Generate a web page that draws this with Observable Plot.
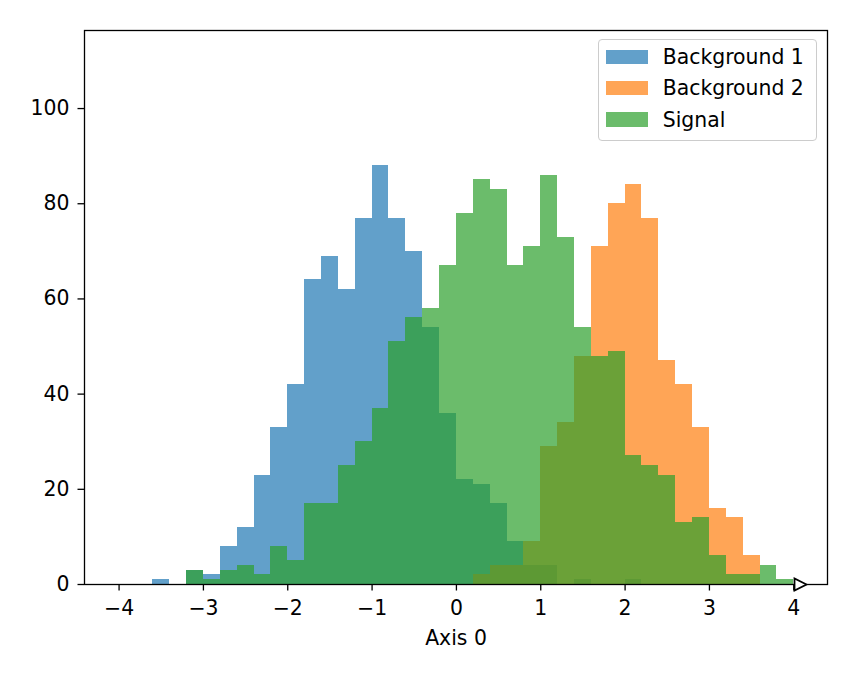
<!DOCTYPE html>
<html><head><meta charset="utf-8">
<script src="https://cdn.jsdelivr.net/npm/d3@7"></script>
<script src="https://cdn.jsdelivr.net/npm/@observablehq/plot@0.6"></script>
<style>
body{margin:0;background:#fff;}
#wrap{position:relative;width:857px;height:679px;font-family:"DejaVu Sans",sans-serif;}
.legend{position:absolute;left:597.5px;top:39px;width:219.5px;height:102px;box-sizing:border-box;border:1.3px solid #cccccc;border-radius:4px;background:rgba(255,255,255,0.8);}
.item{position:absolute;left:7.2px;height:20px;display:flex;align-items:center;font-size:20.4px;color:#000;white-space:nowrap;}
.sw{width:42px;height:14.5px;margin-right:15px;}
</style></head><body><div id="wrap"></div>
<script>
const binEdges = [-4.0,-3.8,-3.6,-3.4,-3.2,-3.0,-2.8,-2.6,-2.4,-2.2,-2.0,-1.8,-1.6,-1.4,-1.2,-1.0,-0.8,-0.6,-0.4,-0.2,0.0,0.2,0.4,0.6,0.8,1.0,1.2,1.4,1.6,1.8,2.0,2.2,2.4,2.6,2.8,3.0,3.2,3.4,3.6,3.8,4.0];
const background1 = [0,0,1,0,3,2,8,12,23,33, 42,64,69,62,77,88,77,70,54,36, 22,21,17,9,4,4,0,1,0,0, 1,0,0,0,0,0,0,0,0,0];
const background2 = [0,0,0,0,0,0,0,0,0,0, 0,0,0,0,0,0,0,0,0,0, 0,2,4,4,9,29,34,48,71,80, 84,77,47,42,33,16,14,6,0,0];
const signal = [0,0,0,0,3,1,3,4,2,8, 5,17,17,25,30,37,51,56,58,67, 78,85,83,67,71,86,73,54,48,49, 27,25,23,13,14,6,2,2,4,1];
const seriesNames = ["Background 1","Background 2","Signal"];
const seriesColors = ["#1f77b4","#ff7f0e","#2ca02c"];
const xTicks = [-4,-3,-2,-1,0,1,2,3,4];
const yTicks = [0,20,40,60,80,100];
const xLabel = "Axis 0";
const overflowAt = [4.08];

const seriesValues = [background1, background2, signal];
const tables = seriesValues.map(vals => vals.map((v, i) => ({x1: binEdges[i], x2: binEdges[i + 1], y: v})));

const triangleRight = {
  draw(context, size) {
    const r = Math.sqrt(size / Math.PI);
    context.moveTo(r, 0);
    context.lineTo(-r, -r);
    context.lineTo(-r, r);
    context.closePath();
  }
};

const chart = Plot.plot({
  width: 857,
  height: 679,
  marginLeft: 84,
  marginRight: 30,
  marginTop: 30,
  marginBottom: 95,
  style: {fontFamily: "DejaVu Sans", fontSize: "20.4px", background: "white", overflow: "visible"},
  x: {domain: [-4.41, 4.40]},
  y: {domain: [0, 116.4]},
  marks: [
    ...tables.map((t, k) => Plot.rectY(t, {x1: "x1", x2: "x2", y: "y", fill: seriesColors[k], fillOpacity: 0.7, shapeRendering: "crispEdges"})),
    Plot.frame({stroke: "black", strokeWidth: 1.3}),
    Plot.axisY({ticks: yTicks, tickSize: 6.5, tickPadding: 8.5, strokeWidth: 1.3, label: null, fill: "black"}),
    Plot.axisX({ticks: xTicks, tickSize: 6.5, tickPadding: 10, strokeWidth: 1.3, label: xLabel, labelAnchor: "center", labelArrow: "none", labelOffset: 60, fill: "black"}),
    Plot.dot(overflowAt, {x: d => d, frameAnchor: "bottom", symbol: triangleRight, r: 6, fill: "white", stroke: "black", strokeWidth: 1.8})
  ]
});

const wrap = document.getElementById("wrap");
wrap.appendChild(chart);

const legend = document.createElement("div");
legend.className = "legend";
const centers = [7.2, 38.2, 69.7];
seriesNames.forEach((name, k) => {
  const item = document.createElement("div");
  item.className = "item";
  item.style.top = centers[k] + "px";
  const sw = document.createElement("div");
  sw.className = "sw";
  sw.style.background = seriesColors[k];
  sw.style.opacity = 0.7;
  const label = document.createElement("span");
  label.textContent = name;
  item.appendChild(sw);
  item.appendChild(label);
  legend.appendChild(item);
});
wrap.appendChild(legend);
</script>
</body></html>
